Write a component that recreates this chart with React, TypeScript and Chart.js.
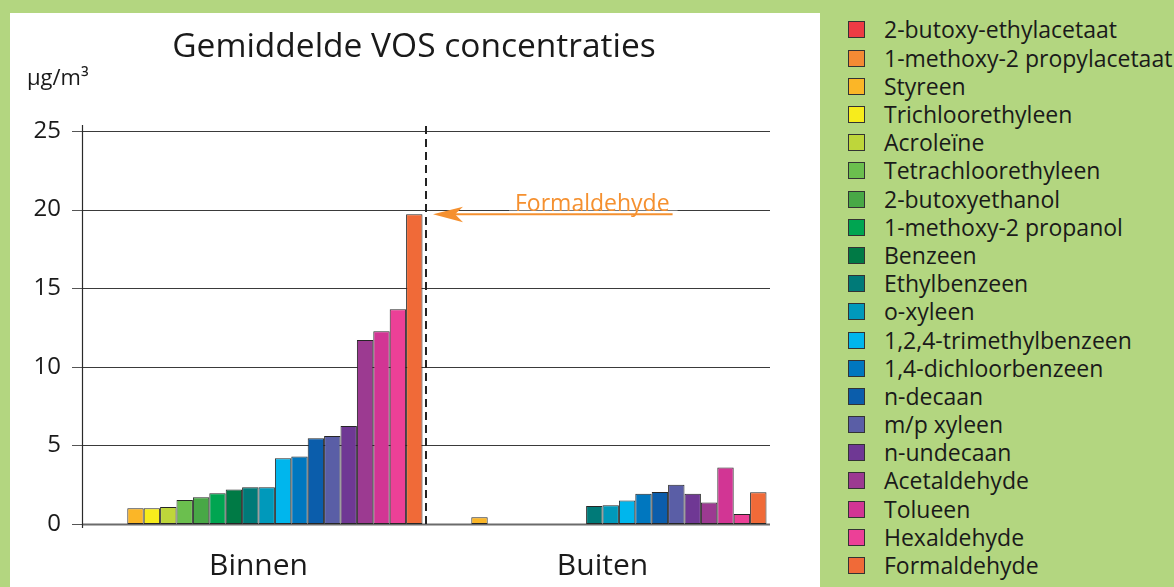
import React, { useEffect, useRef } from 'react';
import { Chart, registerables } from 'chart.js';

Chart.register(...registerables);

// ---------- data ----------
const categories: string[] = ['Binnen', 'Buiten'];

const compounds: string[] = [
  '2-butoxy-ethylacetaat',
  '1-methoxy-2 propylacetaat',
  'Styreen',
  'Trichloorethyleen',
  'Acroleïne',
  'Tetrachloorethyleen',
  '2-butoxyethanol',
  '1-methoxy-2 propanol',
  'Benzeen',
  'Ethylbenzeen',
  'o-xyleen',
  '1,2,4-trimethylbenzeen',
  '1,4-dichloorbenzeen',
  'n-decaan',
  'm/p xyleen',
  'n-undecaan',
  'Acetaldehyde',
  'Tolueen',
  'Hexaldehyde',
  'Formaldehyde',
];

const compoundColors: string[] = [
  '#ee3b44',
  '#f48a34',
  '#fbb627',
  '#f7ec1c',
  '#bed63a',
  '#6bbf4e',
  '#48a846',
  '#00a551',
  '#007a45',
  '#007a78',
  '#0099bb',
  '#00b6ed',
  '#0077bf',
  '#0b5dab',
  '#5a5ea6',
  '#6f3894',
  '#9c3a91',
  '#d23594',
  '#ec4097',
  '#f06a38',
];

const binnenValues: (number | null)[] = [
  null, null, 1.0, 1.0, 1.08, 1.53, 1.7, 1.95, 2.2, 2.33,
  2.33, 4.18, 4.3, 5.45, 5.6, 6.23, 11.7, 12.26, 13.66, 19.7,
];

const buitenValues: (number | null)[] = [
  null, null, 0.43, null, null, null, null, null, null, 1.14,
  1.2, 1.5, 1.93, 2.04, 2.5, 1.93, 1.36, 3.6, 0.64, 2.02,
];

const yMin = 0;
const yMax = 25;
const yStep = 5;

const chartTitle = 'Gemiddelde VOS concentraties';
const unitLabel = 'µg/m³';
const annotationLabel = 'Formaldehyde';
const annotationIndex = 19; // Formaldehyde, Binnen

// ---------- styling ----------
const FONT = "'Open Sans', 'Noto Sans', sans-serif";
const TEXT = '#1a1a1a';
const GREEN = '#b3d680';
const ORANGE = '#f5902f';
const SHIFT = 4.5;

const overlayPlugin = {
  id: 'overlay',
  beforeDatasetsDraw(chart: any) {
    const { ctx, chartArea, scales } = chart;
    const y = scales.y;
    const L = chartArea.left - SHIFT;
    const R = chartArea.right - SHIFT;
    ctx.save();
    y.ticks.forEach((t: any) => {
      const py = Math.round(y.getPixelForValue(t.value)) + 0.5;
      ctx.strokeStyle = t.value === 0 ? '#6b6b6b' : '#3a3a3a';
      ctx.lineWidth = t.value === 0 ? 2 : 1;
      ctx.beginPath();
      ctx.moveTo(L, py);
      ctx.lineTo(R, py);
      ctx.stroke();
      ctx.strokeStyle = '#555';
      ctx.lineWidth = 1;
      ctx.beginPath();
      ctx.moveTo(L - 10, py);
      ctx.lineTo(L, py);
      ctx.stroke();
    });
    // y axis line
    ctx.strokeStyle = '#2a2a2a';
    ctx.lineWidth = 1.2;
    ctx.beginPath();
    ctx.moveTo(Math.round(L) + 0.5, y.getPixelForValue(yMax) - 6);
    ctx.lineTo(Math.round(L) + 0.5, y.getPixelForValue(0) + 4);
    ctx.stroke();
    ctx.restore();
  },
  afterDatasetsDraw(chart: any) {
    const { ctx, scales } = chart;
    const x = scales.x;
    const y = scales.y;
    ctx.save();
    // dashed separator between categories
    const sepX = Math.round((x.getPixelForValue(0) + x.getPixelForValue(1)) / 2 - SHIFT);
    ctx.strokeStyle = '#222';
    ctx.lineWidth = 2;
    ctx.setLineDash([8, 5]);
    ctx.beginPath();
    ctx.moveTo(sepX, y.getPixelForValue(yMax) - 5);
    ctx.lineTo(sepX, y.getPixelForValue(0) + 4);
    ctx.stroke();
    ctx.setLineDash([]);

    // annotation for formaldehyde
    const val = binnenValues[annotationIndex] as number;
    const ay = y.getPixelForValue(val);
    const tipX = sepX + 7;
    ctx.font = `23px ${FONT}`;
    const tw = ctx.measureText(annotationLabel).width;
    const textX = sepX + 89;
    // white gap in grid line
    ctx.fillStyle = '#ffffff';
    ctx.fillRect(textX - 6, ay - 24, tw + 14, 20);
    ctx.fillStyle = ORANGE;
    ctx.textBaseline = 'alphabetic';
    ctx.textAlign = 'left';
    ctx.fillText(annotationLabel, textX, ay - 3);
    ctx.strokeStyle = ORANGE;
    ctx.lineWidth = 2;
    ctx.beginPath();
    ctx.moveTo(tipX + 20, ay);
    ctx.lineTo(textX + tw + 3, ay);
    ctx.stroke();
    ctx.beginPath();
    ctx.moveTo(tipX, ay);
    ctx.lineTo(tipX + 30, ay - 7.5);
    ctx.lineTo(tipX + 22, ay);
    ctx.lineTo(tipX + 30, ay + 8);
    ctx.closePath();
    ctx.fill();

    // unit label
    ctx.fillStyle = TEXT;
    ctx.font = `22px ${FONT}`;
    ctx.fillText(unitLabel, 27, 85);

    // title
    ctx.font = `33.5px ${FONT}`;
    ctx.textAlign = 'center';
    ctx.textBaseline = 'middle';
    ctx.fillText(chartTitle, 414, 47);
    ctx.restore();
  },
};

export default function App() {
  const canvasRef = useRef<HTMLCanvasElement | null>(null);

  useEffect(() => {
    if (!canvasRef.current) return;
    const datasets = compounds.map((name, i) => ({
      label: name,
      data: [binnenValues[i], buitenValues[i]],
      backgroundColor: compoundColors[i],
      borderColor: '#262626',
      borderWidth: 1,
      borderSkipped: false as const,
      categoryPercentage: 328 / 344,
      barPercentage: 1,
    }));
    const chart = new Chart(canvasRef.current, {
      type: 'bar',
      data: { labels: categories, datasets },
      plugins: [overlayPlugin],
      options: {
        animation: false,
        responsive: false,
        devicePixelRatio: 1,
        layout: { padding: { top: 131, left: 0, right: 53.5, bottom: 0 } },
        plugins: {
          legend: { display: false },
          tooltip: { enabled: false },
          title: { display: false },
        },
        scales: {
          x: {
            grid: { display: false },
            border: { display: false },
            ticks: { color: TEXT, font: { family: FONT, size: 30 }, padding: 16 },
            afterFit: (s: any) => {
              s.height = 63;
            },
          },
          y: {
            min: yMin,
            max: yMax,
            grid: { display: false },
            border: { display: false },
            ticks: {
              stepSize: yStep,
              color: TEXT,
              font: { family: FONT, size: 24 },
              padding: 17.5,
            },
            afterFit: (s: any) => {
              s.width = 86.5;
            },
          },
        },
      },
    });
    return () => chart.destroy();
  }, []);

  return (
    <div
      style={{
        position: 'fixed',
        left: 0,
        top: 0,
        width: 1174,
        height: 587,
        background: GREEN,
        overflow: 'hidden',
      }}
    >
      <div
        style={{
          position: 'absolute',
          left: 10,
          top: 13,
          width: 810,
          height: 580,
          background: '#ffffff',
        }}
      />
      <canvas
        ref={canvasRef}
        width={828}
        height={587}
        style={{ position: 'absolute', left: 0, top: 0, width: 828, height: 587 }}
      />
      <div style={{ position: 'absolute', left: 848, top: 15.9 }}>
        {compounds.map((name, i) => (
          <div
            key={name}
            style={{ height: 28.2, display: 'flex', alignItems: 'center' }}
          >
            <div
              style={{
                width: 17,
                height: 17,
                boxSizing: 'border-box',
                border: '1.5px solid #333',
                background: compoundColors[i],
                flex: 'none',
              }}
            />
            <span
              style={{
                marginLeft: 19,
                fontFamily: FONT,
                fontSize: 23,
                color: TEXT,
                lineHeight: 1,
                whiteSpace: 'nowrap',
              }}
            >
              {name}
            </span>
          </div>
        ))}
      </div>
    </div>
  );
}
